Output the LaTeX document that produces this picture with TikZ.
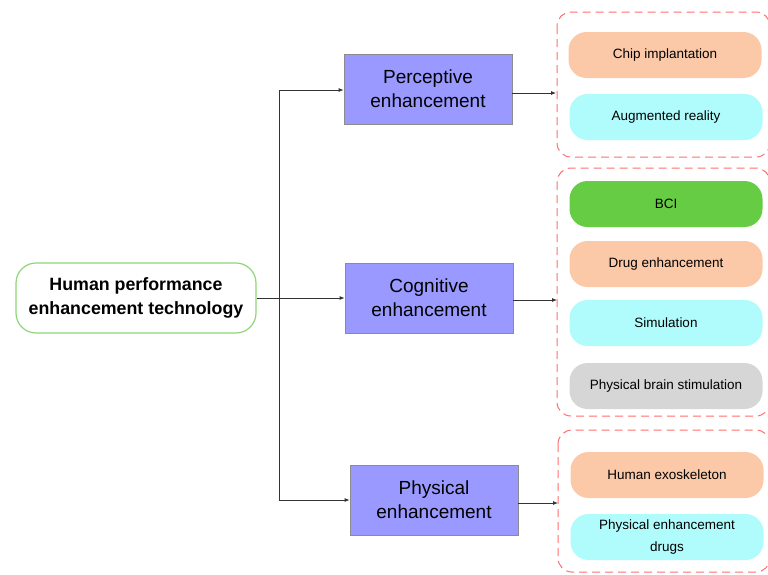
\documentclass[tikz,border=0pt]{standalone}
\usepackage{fontspec}
\setmainfont{Liberation Sans}
\usetikzlibrary{arrows.meta}
\definecolor{rootgreen}{HTML}{8FD67A}
\definecolor{catfill}{HTML}{9999FF}
\definecolor{catline}{HTML}{8C8C8C}
\definecolor{peach}{HTML}{FBC9A8}
\definecolor{aqua}{HTML}{B0FCFC}
\definecolor{leaf}{HTML}{66CC44}
\definecolor{stone}{HTML}{D6D6D6}
\definecolor{grouped}{HTML}{FF6F6F}
\begin{document}
\begin{tikzpicture}[x=1pt,y=-1pt,
  rootbox/.style={draw=rootgreen,line width=1.2pt,rounded corners=20pt,fill=white,
    minimum width=240pt,minimum height=70pt,align=center,
    font=\fontsize{17.8}{24}\selectfont\bfseries},
  catbox/.style={draw=catline,line width=0.8pt,fill=catfill,minimum width=168pt,
    minimum height=70pt,align=center,font=\fontsize{19}{24}\selectfont},
  item/.style={rounded corners=18pt,minimum width=193pt,minimum height=46pt,
    align=center,font=\fontsize{13.5}{22}\selectfont},
  groupbox/.style={draw=grouped,dashed,dash pattern=on 8pt off 5pt,line width=1pt,rounded corners=14pt},
  link/.style={draw=black!80,line width=0.8pt},
  arrow/.style={link,-{Latex[length=5pt,width=4pt]}}]
\useasboundingbox (0,0) rectangle (768,574);

% dashed groups
\draw[groupbox] (557,12) rectangle (770,157);
\draw[groupbox] (557,168) rectangle (770,416);
\draw[groupbox] (558,430) rectangle (770,572);

% root and categories
\node[rootbox] (root) at (136,298) {Human performance\\enhancement technology};
\node[catbox] (perc) at (428,89) {Perceptive\\enhancement};
\node[catbox] (cogn) at (429,298) {Cognitive\\enhancement};
\node[catbox] (phys) at (434,500) {Physical\\enhancement};

% leaves
\node[item,fill=peach] (chip) at (665,55) {Chip implantation};
\node[item,fill=aqua] (ar) at (666,117) {Augmented reality};
\node[item,fill=leaf] (bci) at (666,204) {BCI};
\node[item,fill=peach] (drug) at (666,264) {Drug enhancement};
\node[item,fill=aqua] (sim) at (666,323) {Simulation};
\node[item,fill=stone] (pbs) at (666,386) {Physical brain stimulation};
\node[item,fill=peach] (exo) at (667,475) {Human exoskeleton};
\node[item,fill=aqua] (pdrug) at (667,537) {Physical enhancement\\drugs};

% trunk
\coordinate (top) at (279,90);
\coordinate (bot) at (279,500);
\coordinate (mid) at (279,298);
\coordinate (g1) at (556,93);
\coordinate (g2) at (557,300);
\coordinate (g3) at (558,503);
\draw[link] (top) -- (bot);
\draw[link] (root.east) -- (mid);
\draw[arrow] (top) -- (perc.west |- top);
\draw[arrow] (mid) -- (cogn.west);
\draw[arrow] (bot) -- (phys.west);
\draw[arrow] (perc.east |- g1) -- (g1);
\draw[arrow] (cogn.east |- g2) -- (g2);
\draw[arrow] (phys.east |- g3) -- (g3);
\end{tikzpicture}
\end{document}
